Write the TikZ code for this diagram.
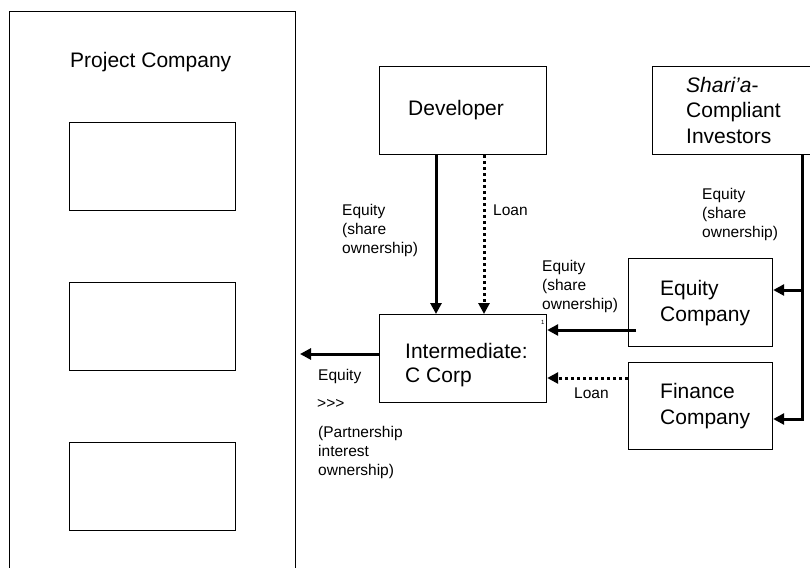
\documentclass[tikz,border=0pt]{standalone}
\usepackage{fontspec}
\setmainfont{Liberation Sans}
\usetikzlibrary{arrows.meta}
\begin{document}
\begin{tikzpicture}[x=1pt,y=-1pt,
  box/.style={draw, line width=1.2pt, inner sep=0pt, anchor=north west},
  bigtxt/.style={font=\fontsize{21}{25}\selectfont, anchor=base west, inner sep=0pt, align=left},
  smalltxt/.style={font=\fontsize{15.5}{18.7}\selectfont, anchor=base west, inner sep=0pt, align=left},
  arr/.style={line width=3pt, -{Triangle[length=11pt,width=11pt]}},
  dotarr/.style={arr, dash pattern=on 3pt off 3pt}]
\clip (0,0) rectangle (810,567);
\fill[white] (0,0) rectangle (810,567);
% Project company
\node[box, minimum width=286pt, minimum height=600pt] (proj) at (9,11) {};
\node[bigtxt] (projt) at (70,68) {Project Company};
\node[box, minimum width=166pt, minimum height=88pt] (in1) at (69,122) {};
\node[box, minimum width=166pt, minimum height=88pt] (in2) at (69,282) {};
\node[box, minimum width=166pt, minimum height=88pt] (in3) at (69,442) {};
% Other boxes
\node[box, minimum width=167pt, minimum height=88pt] (dev) at (379,66) {};
\node[bigtxt] (devt) at (408,116) {Developer};
\node[box, minimum width=170pt, minimum height=88pt] (inv) at (652,66) {};
\node[bigtxt, font=\fontsize{21}{25.5}\selectfont] (invt) at (686,143) {\textit{Shari’a}-\\Compliant\\Investors};
\node[box, minimum width=167pt, minimum height=88pt] (inter) at (379,314) {};
\node[bigtxt, font=\fontsize{21}{24}\selectfont] (intert) at (405,382) {Intermediate:\\C Corp};
\node[box, minimum width=144pt, minimum height=88pt] (eqc) at (628,258) {};
\node[bigtxt, font=\fontsize{21}{26}\selectfont] (eqct) at (660,321) {Equity\\Company};
\node[box, minimum width=144pt, minimum height=87pt] (fin) at (628,362) {};
\node[bigtxt, font=\fontsize{21}{26}\selectfont] (fint) at (660,424) {Finance\\Company};
% Connectors
\draw[arr] ([xshift=57pt]dev.south west) -- ([xshift=57pt]inter.north west);
\draw[dotarr] ([xshift=105pt]dev.south west) -- ([xshift=105pt]inter.north west);
\draw[arr] ([xshift=8pt,yshift=-72pt]eqc.north west) -- ([yshift=-16pt]inter.north east);
\draw[dotarr] ([yshift=-16pt]fin.north west) -- ([yshift=-64pt]inter.north east);
\coordinate (pe) at (300,354);
\draw[arr] ([yshift=-40pt]inter.north west) -- (pe);
\draw[arr] ([xshift=150pt]inv.south west) |- ([yshift=-57pt]fin.north east);
\coordinate (jn) at (802,290);
\draw[arr] (jn) -- ([yshift=-32pt]eqc.north east);
% Labels
\node[smalltxt] (l1) at (342,253) {Equity\\(share\\ownership)};
\node[smalltxt] (l2) at (493,215) {Loan};
\node[smalltxt] (l3) at (542,309) {Equity\\(share\\ownership)};
\node[font=\fontsize{6}{7}\selectfont, anchor=base west, inner sep=0pt] (l3b) at (541,324) {1};
\node[smalltxt] (l4) at (574,398) {Loan};
\node[smalltxt] (l5) at (702,237) {Equity\\(share\\ownership)};
\node[smalltxt] (l6) at (318,380) {Equity};
\node[smalltxt] (l7) at (317,408) {>\kern0pt>\kern0pt>};
\node[smalltxt] (l8) at (318,475) {(Partnership\\interest\\ownership)};
\end{tikzpicture}
\end{document}
